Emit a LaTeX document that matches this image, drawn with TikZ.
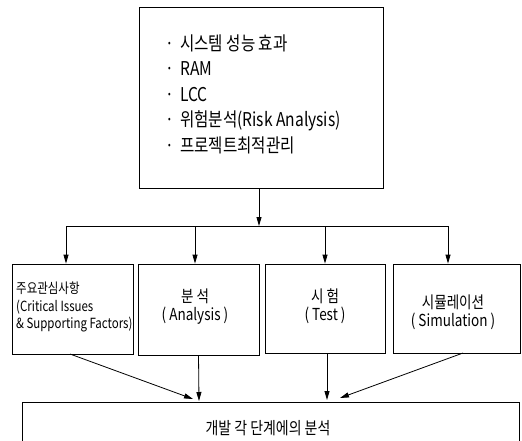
\documentclass[tikz,border=0pt]{standalone}
\usepackage{fontspec}
\setmainfont[FakeStretch=0.82]{Noto Sans CJK KR}
\usetikzlibrary{arrows.meta,calc}
\begin{document}
\begin{tikzpicture}[x=1pt,y=-1pt,
  box/.style={draw, line width=0.8pt, inner sep=0pt},
  ln/.style={line width=0.8pt},
  arr/.style={line width=0.8pt, -{Triangle[length=9pt,width=5pt]}},
  lbl/.style={inner sep=0pt, align=center, font=\fontsize{16.5}{18}\selectfont}]
\clip (0,0) rectangle (522,440);
% top box
\node[box, minimum width=244pt, minimum height=181pt] (top) at (261,97.5) {};
\node[anchor=west, inner sep=0pt, align=left, font=\fontsize{19}{25.5}\selectfont] (toptext) at (165,94)
  {\makebox[15pt][l]{·}시스템 성능 효과\\
   \makebox[15pt][l]{·}RAM\\
   \makebox[15pt][l]{·}LCC\\
   \makebox[15pt][l]{·}위험분석(Risk Analysis)\\
   \makebox[15pt][l]{·}프로젝트최적관리};
% middle boxes
\node[box, minimum width=121pt, minimum height=90pt] (b1) at (72.5,309) {};
\node[box, minimum width=121pt, minimum height=91pt] (b2) at (198.5,309.5) {};
\node[box, minimum width=120pt, minimum height=89pt] (b3) at (325,308.5) {};
\node[box, minimum width=127pt, minimum height=89pt] (b4) at (456.5,308.5) {};
\node[anchor=west, inner sep=0pt, align=left, font=\fontsize{14}{17.5}\selectfont] (t1) at (16,307)
  {주요관심사항\\(Critical Issues\\\& Supporting Factors)};
\node[lbl] (t2) at (195,306.5) {분 석\\( Analysis )};
\node[lbl] (t3) at (325,306) {시 험\\( Test )};
\node[lbl] (t4) at (453,312) {시뮬레이션\\( Simulation )};
% bottom box
\node[box, minimum width=497pt, minimum height=58pt] (bot) at (270.5,431) {};
\node[inner sep=0pt, font=\fontsize{17}{20}\selectfont] (tb) at (268,428) {개발 각 단계에의 분석};
% distribution bar
\coordinate (j) at (259,226);
\coordinate (j1) at (66,226);
\coordinate (j2) at (195,226);
\coordinate (j3) at (325,226);
\coordinate (j4) at (448,226);
\draw[arr] (top.south -| j) -- (j);
\draw[ln] (j1) -- (j4);
\draw[arr] (j1) -- (b1.north -| j1);
\draw[arr] (j2) -- (b2.north -| j2);
\draw[arr] (j3) -- (b3.north -| j3);
\draw[arr] (j4) -- (b4.north -| j4);
% arrows to bottom box
\coordinate (s1) at (70,354);
\coordinate (e1) at (193,399);
\coordinate (s2) at (199,355);
\coordinate (e2) at (199,401);
\coordinate (s3) at (327,353);
\coordinate (e3) at (327,400);
\coordinate (s4) at (463,353);
\coordinate (e4) at (340,398);
\draw[arr] (s1) -- (e1);
\draw[arr] (b2.south |- s2) -- (e2);
\draw[arr] (s3) -- (e3);
\draw[arr] (s4) -- (e4);
\end{tikzpicture}
\end{document}
